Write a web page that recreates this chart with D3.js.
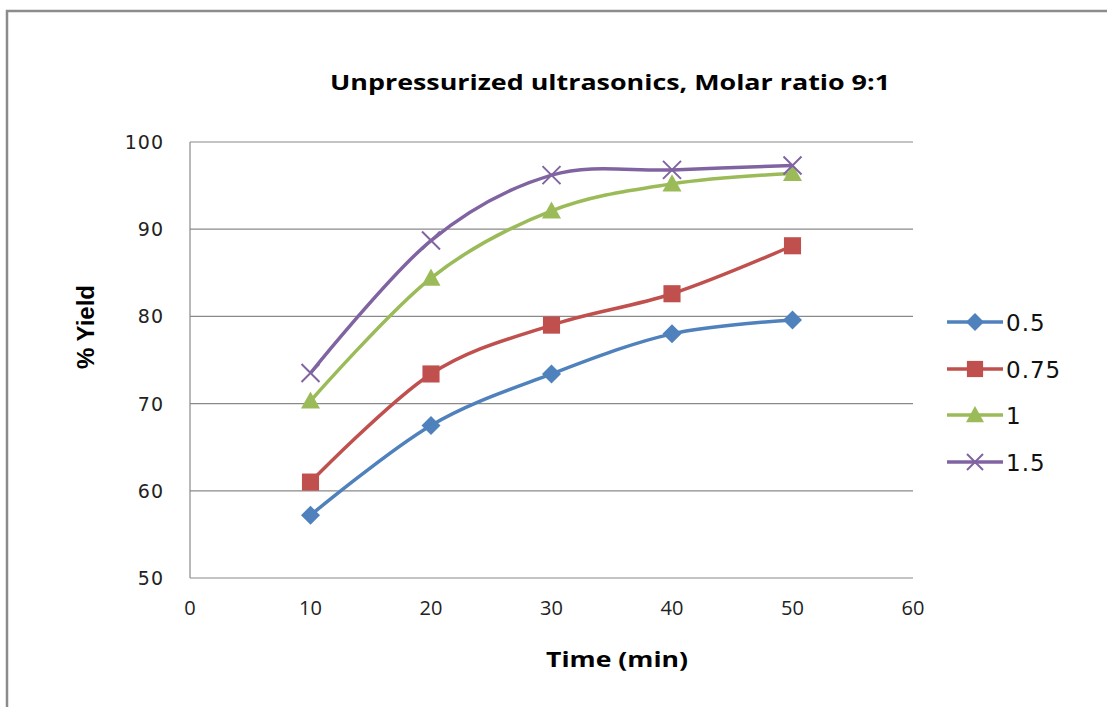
<!DOCTYPE html>
<html><head><meta charset="utf-8">
<script src="https://cdn.jsdelivr.net/npm/d3@7"></script>
<style>body{margin:0;background:#fff}svg{display:block}</style>
</head><body>
<svg id="c" width="1109" height="707"></svg>
<script>
const times = [10, 20, 30, 40, 50];
const seriesNames = ["0.5", "0.75", "1", "1.5"];
const yield05 = [57.2, 67.5, 73.4, 78.0, 79.6];
const yield075 = [61.0, 73.4, 79.0, 82.6, 88.1];
const yield1 = [70.3, 84.4, 92.1, 95.2, 96.4];
const yield15 = [73.5, 88.7, 96.2, 96.8, 97.3];
const xTicks = [0, 10, 20, 30, 40, 50, 60];
const yTicks = [50, 60, 70, 80, 90, 100];
const colors = ["#4F81BD", "#C0504D", "#9BBB59", "#8064A2"];
const markers = ["diamond", "square", "triangle", "x"];
const allSeries = [yield05, yield075, yield1, yield15];

const svg = d3.select("#c");
// outer border
svg.append("path").attr("d", "M7,707 V11 H1107").attr("fill", "none").attr("stroke", "#8c8c8c").attr("stroke-width", 2.5);

const L = 190, R = 913, T = 142, B = 578;
const x = d3.scaleLinear().domain([0, 60]).range([L, R]);
const y = d3.scaleLinear().domain([50, 100]).range([B, T]);

// gridlines
svg.append("g").selectAll("line").data(yTicks).join("line")
  .attr("x1", L).attr("x2", R).attr("y1", d => y(d)).attr("y2", d => y(d))
  .attr("stroke", "#8a8a8a").attr("stroke-width", 1.2);
svg.append("line").attr("x1", L).attr("x2", L).attr("y1", T).attr("y2", B).attr("stroke", "#8a8a8a").attr("stroke-width", 1.2);

// y tick labels
svg.append("g").selectAll("text").data(yTicks).join("text")
  .attr("x", 164).attr("y", d => y(d) + 7).attr("text-anchor", "end")
  .attr("font-family", "DejaVu Sans").attr("font-size", 19).attr("letter-spacing", 1).attr("fill", "#222")
  .text(d => d);
// x tick labels
svg.append("g").selectAll("text").data(xTicks).join("text")
  .attr("x", d => x(d)).attr("y", 615).attr("text-anchor", "middle")
  .attr("font-family", "Open Sans").attr("font-size", 20).attr("fill", "#222")
  .text(d => d);

// titles
svg.append("text").attr("x", 610).attr("y", 90).attr("text-anchor", "middle")
  .attr("font-family", "Open Sans").attr("font-weight", "bold").attr("font-size", 21)
  .attr("textLength", 560).attr("lengthAdjust", "spacingAndGlyphs")
  .text("Unpressurized ultrasonics, Molar ratio 9:1");
svg.append("text").attr("x", 617).attr("y", 667).attr("text-anchor", "middle")
  .attr("font-family", "Open Sans").attr("font-weight", "bold").attr("font-size", 22)
  .attr("textLength", 142).attr("lengthAdjust", "spacingAndGlyphs")
  .text("Time (min)");
svg.append("text").attr("transform", "translate(94,327) rotate(-90)").attr("text-anchor", "middle")
  .attr("font-family", "Liberation Sans").attr("font-weight", "bold").attr("font-size", 24)
  .text("% Yield");

const line = d3.line().x(d => x(d[0])).y(d => y(d[1])).curve(d3.curveCatmullRom.alpha(0));

function drawMarker(g, type, cx, cy, color, s) {
  if (type === "diamond") {
    g.append("path").attr("d", `M${cx},${cy - s}L${cx + s},${cy}L${cx},${cy + s}L${cx - s},${cy}Z`).attr("fill", color);
  } else if (type === "square") {
    g.append("rect").attr("x", cx - s * 0.9).attr("y", cy - s * 0.9).attr("width", s * 1.8).attr("height", s * 1.8).attr("fill", color);
  } else if (type === "triangle") {
    g.append("path").attr("d", `M${cx},${cy - s}L${cx + s},${cy + s * 0.8}L${cx - s},${cy + s * 0.8}Z`).attr("fill", color);
  } else {
    g.append("path").attr("d", `M${cx - s},${cy - s}L${cx + s},${cy + s}M${cx - s},${cy + s}L${cx + s},${cy - s}`)
      .attr("stroke", color).attr("stroke-width", 2).attr("fill", "none");
  }
}

allSeries.forEach((vals, i) => {
  const pts = times.map((t, j) => [t, vals[j]]);
  const g = svg.append("g");
  g.append("path").attr("d", line(pts)).attr("fill", "none").attr("stroke", colors[i]).attr("stroke-width", 3.5);
  pts.forEach(p => drawMarker(g, markers[i], x(p[0]), y(p[1]), colors[i], i === 3 ? 9 : 9.5));
});

// legend
const legY = [322, 369, 415, 462];
seriesNames.forEach((n, i) => {
  const g = svg.append("g");
  g.append("line").attr("x1", 947).attr("x2", 1003).attr("y1", legY[i]).attr("y2", legY[i])
    .attr("stroke", colors[i]).attr("stroke-width", 3.5);
  drawMarker(g, markers[i], 975, legY[i], colors[i], i === 3 ? 8 : 9);
  g.append("text").attr("x", 1006).attr("y", legY[i] + 9).attr("font-family", "DejaVu Sans")
    .attr("font-size", 23).attr("letter-spacing", 1).attr("fill", "#111").text(n);
});
</script>
</body></html>
